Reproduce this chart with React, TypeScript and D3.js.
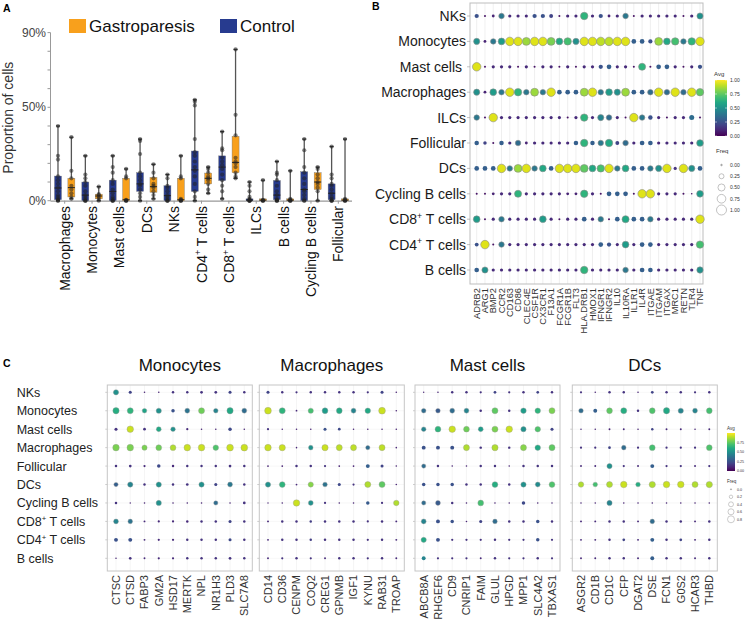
import React from 'react';
import * as d3 from 'd3';

const FONT = "'Liberation Sans', Arial, Helvetica, sans-serif";

// ---------- Panel A: proportion of cells ----------
const cellTypesA = ['Macrophages', 'Monocytes', 'Mast cells', 'DCs', 'NKs', 'CD4+ T cells', 'CD8+ T cells', 'ILCs', 'B cells', 'Cycling B cells', 'Follicular'];

// control (blue) box stats, %
const ctrlMin = [0, 0, 0, 0, 0, 0, 1, 0, 0, 0, 0];
const ctrlQ1 = [0.5, 0, 0, 5, 0, 5, 10.8, 0, 0.5, 0, 0.5];
const ctrlMedian = [6.8, 3, 5, 9, 2.7, 16.5, 18, 0.3, 3, 6, 4];
const ctrlQ3 = [13.2, 10, 11, 15, 8, 26.6, 24, 1, 10.8, 15.5, 9];
const ctrlMax = [40, 24, 24, 33, 14, 54, 37, 10, 21, 33, 29];

// gastroparesis (orange) box stats, %
const gpMin = [1, 0, 0, 1, 0, 4, 12, 0, 0, 0, 0];
const gpQ1 = [2, 1, 0, 4.5, 0, 9, 15, 0, 0, 6, 0];
const gpMedian = [7, 2.5, 0.5, 7.5, 0.5, 12, 20.5, 0.3, 0.3, 10, 0.3];
const gpQ3 = [12, 3.5, 12, 12.5, 12, 14.8, 34.5, 1, 1, 15, 1];
const gpMax = [34, 7.5, 17, 19.5, 24, 18, 81, 11, 16, 18, 33];

// individual samples, %
const ctrlPoints = [
  [0, 0, 0.5, 1, 2, 3, 5, 7, 9, 11, 13, 22, 24, 40],
  [0, 0, 0, 1, 2, 3, 5, 8, 10, 12, 14, 24],
  [0, 0, 0, 1, 2, 4, 6, 9, 11, 15, 18, 24],
  [0, 2, 4, 6, 8, 9, 11, 13, 15, 25, 32, 33],
  [0, 0, 0, 1, 2, 3, 5, 7, 8, 12, 14],
  [0, 2, 5, 9, 13, 16, 18, 21, 24, 26, 33, 51, 53, 54],
  [1, 5, 8, 11, 14, 17, 19, 21, 23, 27, 28, 37],
  [0, 0, 0, 0, 0.5, 1, 2, 5, 8, 10],
  [0, 0, 0, 0.5, 1, 3, 5, 8, 11, 14, 15, 21],
  [0, 0, 1, 3, 5, 6, 9, 12, 15, 18, 27, 33],
  [0, 0, 0, 1, 2, 4, 6, 8, 9, 12, 14, 29],
];
const gpPoints = [
  [1, 2, 4, 6, 8, 12, 16, 34],
  [0, 1, 2, 3, 3.5, 7.5],
  [0, 0, 0, 0.5, 12, 13, 17],
  [1, 3, 5, 7, 8, 9, 12, 15, 19.5],
  [0, 0, 0, 0.5, 1, 12, 13, 24],
  [4, 6, 9, 11, 12, 13, 15, 17, 18],
  [12, 13, 15, 18, 20, 21, 23, 35, 46, 81],
  [0, 0, 0, 0.5, 11],
  [0, 0, 0, 0.5, 1, 16],
  [0, 5, 7, 9, 10, 12, 14, 17, 18],
  [0, 0, 0, 0.5, 1, 33],
];
const yTicksA = [0, 10, 20, 30, 40, 50, 60, 70, 80, 90];
const yLabelsA = [0, 50, 90];

// ---------- Panel B: marker dot plot ----------
const bGenes = ['ADRB2', 'ARG1', 'BMP2', 'CCR2', 'CD163', 'CD86', 'CLEC4E', 'CSF1R', 'CX3CR1', 'F13A1', 'FCGR1A', 'FCGR1B', 'FLT3', 'HLA.DRB1', 'HMOX1', 'IFNGR1', 'IFNGR2', 'IL10', 'IL10RA', 'IL1R1', 'IL4R', 'ITGAE', 'ITGAM', 'ITGAX', 'MRC1', 'RETN', 'TLR4', 'TNF'];
const bRows = ['NKs', 'Monocytes', 'Mast cells', 'Macrophages', 'ILCs', 'Follicular', 'DCs', 'Cycling B cells', 'CD8+ T cells', 'CD4+ T cells', 'B cells'];
const bAvg = [
  [0.25, 0.05, 0.1, 0.4, 0.12, 0.12, 0.12, 0.25, 0.25, 0.2, 0.05, 0.12, 0.12, 0.65, 0.12, 0.25, 0.1, 0.12, 0.4, 0.05, 0.12, 0.12, 0.12, 0.12, 0.12, 0.05, 0.12, 0.5],
  [0.5, 0.1, 0.4, 0.55, 0.95, 0.95, 0.85, 0.95, 0.95, 0.8, 0.6, 0.7, 0.5, 0.95, 0.95, 0.9, 0.9, 0.95, 0.95, 0.3, 0.3, 0.25, 0.85, 0.6, 0.7, 0.4, 0.65, 0.95],
  [0.95, 0.05, 0.12, 0.12, 0.12, 0.05, 0.12, 0.05, 0.12, 0.12, 0.05, 0.12, 0.05, 0.12, 0.12, 0.25, 0.3, 0.12, 0.12, 0.05, 0.65, 0.05, 0.3, 0.3, 0.12, 0.05, 0.12, 0.25],
  [0.5, 0.1, 0.55, 0.4, 0.95, 0.65, 0.4, 0.85, 0.4, 0.95, 0.3, 0.3, 0.3, 0.85, 0.95, 0.4, 0.55, 0.5, 0.85, 0.3, 0.3, 0.35, 0.95, 0.35, 0.95, 0.35, 0.95, 0.75],
  [0.4, 0.05, 0.95, 0.12, 0.12, 0.12, 0.12, 0.12, 0.12, 0.12, 0.12, 0.05, 0.12, 0.65, 0.12, 0.45, 0.35, 0.12, 0.05, 0.95, 0.4, 0.25, 0.12, 0.05, 0.12, 0.12, 0.35, 0.05],
  [0.3, 0.2, 0.05, 0.3, 0.12, 0.35, 0.1, 0.12, 0.12, 0.12, 0.12, 0.12, 0.3, 0.65, 0.3, 0.4, 0.6, 0.2, 0.35, 0.12, 0.3, 0.3, 0.12, 0.12, 0.12, 0.12, 0.12, 0.55],
  [0.3, 0.3, 0.3, 0.95, 0.4, 0.85, 0.95, 0.4, 0.6, 0.3, 0.95, 0.95, 0.95, 0.75, 0.6, 0.7, 0.95, 0.4, 0.6, 0.3, 0.3, 0.4, 0.5, 0.95, 0.15, 0.95, 0.5, 0.3],
  [0.05, 0.05, 0.1, 0.12, 0.12, 0.65, 0.12, 0.12, 0.12, 0.12, 0.12, 0.1, 0.1, 0.65, 0.12, 0.05, 0.3, 0.3, 0.3, 0.05, 0.95, 0.95, 0.12, 0.12, 0.12, 0.05, 0.05, 0.55],
  [0.55, 0.05, 0.12, 0.4, 0.12, 0.12, 0.12, 0.12, 0.55, 0.12, 0.05, 0.12, 0.12, 0.3, 0.12, 0.4, 0.05, 0.3, 0.6, 0.3, 0.3, 0.4, 0.12, 0.12, 0.12, 0.12, 0.12, 0.95],
  [0.25, 0.95, 0.05, 0.4, 0.12, 0.12, 0.12, 0.12, 0.12, 0.12, 0.12, 0.12, 0.12, 0.12, 0.12, 0.3, 0.25, 0.12, 0.55, 0.12, 0.3, 0.3, 0.12, 0.12, 0.12, 0.12, 0.12, 0.7],
  [0.3, 0.5, 0.12, 0.12, 0.12, 0.12, 0.12, 0.12, 0.12, 0.12, 0.12, 0.12, 0.12, 0.65, 0.12, 0.12, 0.12, 0.12, 0.4, 0.12, 0.3, 0.3, 0.12, 0.12, 0.12, 0.12, 0.12, 0.5],
];
const bFreq = [
  [0.18, 0.04, 0.08, 0.3, 0.1, 0.1, 0.1, 0.18, 0.18, 0.15, 0.04, 0.1, 0.1, 0.55, 0.1, 0.18, 0.08, 0.1, 0.3, 0.04, 0.1, 0.1, 0.1, 0.1, 0.1, 0.04, 0.1, 0.38],
  [0.38, 0.08, 0.3, 0.45, 0.72, 0.72, 0.62, 0.72, 0.72, 0.62, 0.45, 0.55, 0.38, 0.72, 0.72, 0.72, 0.72, 0.72, 0.72, 0.22, 0.22, 0.18, 0.62, 0.45, 0.55, 0.3, 0.55, 0.72],
  [0.72, 0.04, 0.1, 0.1, 0.1, 0.04, 0.1, 0.04, 0.1, 0.1, 0.04, 0.1, 0.04, 0.1, 0.1, 0.18, 0.22, 0.1, 0.1, 0.04, 0.5, 0.04, 0.22, 0.22, 0.1, 0.04, 0.1, 0.18],
  [0.38, 0.08, 0.45, 0.3, 0.72, 0.55, 0.3, 0.62, 0.3, 0.72, 0.22, 0.22, 0.22, 0.62, 0.72, 0.3, 0.45, 0.38, 0.62, 0.22, 0.22, 0.3, 0.72, 0.3, 0.72, 0.3, 0.72, 0.55],
  [0.3, 0.04, 0.72, 0.1, 0.1, 0.1, 0.1, 0.1, 0.1, 0.1, 0.1, 0.04, 0.1, 0.55, 0.1, 0.38, 0.3, 0.1, 0.04, 0.72, 0.3, 0.2, 0.1, 0.04, 0.1, 0.1, 0.25, 0.04],
  [0.2, 0.12, 0.04, 0.2, 0.1, 0.3, 0.08, 0.1, 0.1, 0.1, 0.1, 0.1, 0.2, 0.55, 0.2, 0.3, 0.55, 0.15, 0.3, 0.1, 0.22, 0.22, 0.1, 0.1, 0.1, 0.1, 0.1, 0.45],
  [0.22, 0.22, 0.22, 0.72, 0.3, 0.62, 0.72, 0.3, 0.45, 0.22, 0.72, 0.72, 0.72, 0.62, 0.45, 0.55, 0.72, 0.3, 0.45, 0.22, 0.22, 0.3, 0.38, 0.72, 0.1, 0.72, 0.38, 0.22],
  [0.04, 0.04, 0.08, 0.1, 0.1, 0.5, 0.1, 0.1, 0.1, 0.1, 0.1, 0.08, 0.08, 0.55, 0.1, 0.04, 0.22, 0.22, 0.22, 0.04, 0.72, 0.72, 0.1, 0.1, 0.1, 0.04, 0.02, 0.45],
  [0.45, 0.04, 0.1, 0.3, 0.1, 0.1, 0.1, 0.1, 0.45, 0.1, 0.04, 0.1, 0.1, 0.22, 0.1, 0.3, 0.04, 0.22, 0.5, 0.22, 0.22, 0.3, 0.1, 0.1, 0.1, 0.1, 0.1, 0.72],
  [0.15, 0.72, 0.04, 0.3, 0.1, 0.1, 0.1, 0.1, 0.1, 0.1, 0.1, 0.1, 0.1, 0.1, 0.1, 0.22, 0.18, 0.1, 0.45, 0.1, 0.22, 0.22, 0.1, 0.1, 0.1, 0.1, 0.1, 0.55],
  [0.22, 0.38, 0.1, 0.1, 0.1, 0.1, 0.1, 0.1, 0.1, 0.1, 0.1, 0.1, 0.1, 0.55, 0.1, 0.1, 0.1, 0.1, 0.3, 0.1, 0.22, 0.22, 0.1, 0.1, 0.1, 0.1, 0.1, 0.4],
];
const bAvgLegend = [1, 0.75, 0.5, 0.25, 0];
const bFreqLegend = [0, 0.25, 0.5, 0.75, 1];

// ---------- Panel C: cell-type signature genes ----------
const cPanels = ['Monocytes', 'Macrophages', 'Mast cells', 'DCs'];
const cRows = ['NKs', 'Monocytes', 'Mast cells', 'Macrophages', 'Follicular', 'DCs', 'Cycling B cells', 'CD8+ T cells', 'CD4+ T cells', 'B cells'];
const cGenesMono = ['CTSC', 'CTSD', 'FABP3', 'GM2A', 'HSD17', 'MERTK', 'NPL', 'NR1H3', 'PLD3', 'SLC7A8'];
const cGenesMac = ['CD14', 'CD36', 'CENPM', 'COQ2', 'CREG1', 'GPNMB', 'IGF1', 'KYNU', 'RAB31', 'TROAP'];
const cGenesMast = ['ABCB8A', 'RHGEF6', 'CD9', 'CNRIP1', 'FAIM', 'GLUL', 'HPGD', 'MPP1', 'SLC4A2', 'TBXAS1'];
const cGenesDC = ['ASGR2', 'CD1B', 'CD1C', 'CFP', 'DGAT2', 'DSE', 'FCN1', 'G0S2', 'HCAR3', 'THBD'];

const cAvgMono = [
  [0.5, 0.2, 0.1, 0.1, 0.15, 0.15, 0.15, 0.15, 0.2, 0.15],
  [0.62, 0.65, 0.58, 0.5, 0.25, 0.38, 0.78, 0.45, 0.6, 0.35],
  [0.15, 0.92, 0.15, 0.6, 0.5, 0.12, 0.1, 0.1, 0.22, 0.1],
  [0.8, 0.8, 0.8, 0.78, 0.88, 0.92, 0.92, 0.72, 0.92, 0.92],
  [0.15, 0.15, 0.12, 0.22, 0.12, 0.15, 0.15, 0.15, 0.15, 0.15],
  [0.3, 0.45, 0.15, 0.5, 0.15, 0.15, 0.5, 0.2, 0.4, 0.15],
  [0.15, 0.1, 0.1, 0.5, 0.1, 0.1, 0.1, 0.35, 0.1, 0.15],
  [0.45, 0.38, 0.12, 0.12, 0.12, 0.12, 0.15, 0.15, 0.2, 0.15],
  [0.25, 0.25, 0.12, 0.12, 0.12, 0.15, 0.15, 0.15, 0.22, 0.15],
  [0.1, 0.15, 0.12, 0.12, 0.12, 0.15, 0.15, 0.15, 0.15, 0.15],
];
const cFreqMono = [
  [0.45, 0.15, 0.04, 0.04, 0.1, 0.1, 0.12, 0.12, 0.15, 0.1],
  [0.65, 0.6, 0.35, 0.45, 0.2, 0.4, 0.6, 0.35, 0.65, 0.4],
  [0.15, 0.7, 0.12, 0.4, 0.35, 0.08, 0.04, 0.04, 0.2, 0.04],
  [0.7, 0.7, 0.45, 0.55, 0.55, 0.7, 0.7, 0.5, 0.75, 0.75],
  [0.1, 0.12, 0.08, 0.2, 0.1, 0.1, 0.1, 0.1, 0.12, 0.1],
  [0.3, 0.45, 0.1, 0.45, 0.1, 0.12, 0.45, 0.15, 0.4, 0.1],
  [0.1, 0.03, 0.04, 0.45, 0.04, 0.04, 0.04, 0.3, 0.04, 0.12],
  [0.4, 0.35, 0.06, 0.08, 0.08, 0.1, 0.1, 0.1, 0.15, 0.1],
  [0.25, 0.25, 0.06, 0.08, 0.08, 0.1, 0.1, 0.1, 0.15, 0.1],
  [0.04, 0.12, 0.06, 0.08, 0.08, 0.1, 0.1, 0.1, 0.12, 0.1],
];
const cAvgMac = [
  [0.2, 0.15, 0.15, 0.15, 0.15, 0.15, 0.15, 0.15, 0.2, 0.1],
  [0.92, 0.65, 0.12, 0.7, 0.55, 0.6, 0.45, 0.6, 0.92, 0.1],
  [0.15, 0.1, 0.1, 0.1, 0.25, 0.22, 0.1, 0.1, 0.1, 0.1],
  [0.92, 0.92, 0.1, 0.5, 0.92, 0.9, 0.9, 0.35, 0.9, 0.1],
  [0.1, 0.1, 0.15, 0.15, 0.15, 0.1, 0.1, 0.3, 0.2, 0.1],
  [0.5, 0.65, 0.12, 0.82, 0.38, 0.22, 0.15, 0.88, 0.75, 0.1],
  [0.1, 0.1, 0.92, 0.5, 0.15, 0.1, 0.1, 0.28, 0.15, 0.88],
  [0.12, 0.15, 0.15, 0.18, 0.15, 0.15, 0.15, 0.15, 0.15, 0.12],
  [0.12, 0.15, 0.15, 0.18, 0.15, 0.15, 0.15, 0.15, 0.15, 0.12],
  [0.12, 0.15, 0.15, 0.15, 0.12, 0.15, 0.15, 0.15, 0.15, 0.12],
];
const cFreqMac = [
  [0.15, 0.1, 0.08, 0.1, 0.1, 0.1, 0.1, 0.08, 0.15, 0.04],
  [0.75, 0.6, 0.05, 0.45, 0.55, 0.55, 0.4, 0.5, 0.75, 0.04],
  [0.08, 0.04, 0.04, 0.04, 0.15, 0.12, 0.04, 0.04, 0.04, 0.04],
  [0.7, 0.65, 0.04, 0.35, 0.65, 0.6, 0.6, 0.3, 0.6, 0.04],
  [0.05, 0.05, 0.1, 0.1, 0.08, 0.05, 0.05, 0.25, 0.15, 0.04],
  [0.45, 0.55, 0.05, 0.45, 0.35, 0.15, 0.08, 0.6, 0.6, 0.04],
  [0.03, 0.04, 0.7, 0.4, 0.08, 0.04, 0.04, 0.2, 0.08, 0.5],
  [0.06, 0.1, 0.1, 0.1, 0.1, 0.1, 0.1, 0.08, 0.1, 0.06],
  [0.06, 0.1, 0.1, 0.1, 0.1, 0.1, 0.1, 0.08, 0.1, 0.06],
  [0.06, 0.08, 0.1, 0.08, 0.06, 0.1, 0.1, 0.08, 0.1, 0.06],
];
const cAvgMast = [
  [0.1, 0.1, 0.15, 0.15, 0.15, 0.2, 0.15, 0.15, 0.2, 0.15],
  [0.35, 0.28, 0.35, 0.45, 0.15, 0.75, 0.15, 0.55, 0.65, 0.8],
  [0.45, 0.65, 0.92, 0.78, 0.55, 0.8, 0.92, 0.5, 0.72, 0.2],
  [0.25, 0.25, 0.25, 0.88, 0.15, 0.88, 0.15, 0.82, 0.6, 0.75],
  [0.35, 0.15, 0.1, 0.1, 0.15, 0.15, 0.1, 0.15, 0.15, 0.15],
  [0.25, 0.25, 0.25, 0.15, 0.15, 0.62, 0.15, 0.5, 0.48, 0.72],
  [0.35, 0.28, 0.15, 0.1, 0.7, 0.1, 0.1, 0.22, 0.1, 0.1],
  [0.45, 0.25, 0.25, 0.1, 0.2, 0.35, 0.15, 0.15, 0.25, 0.15],
  [0.6, 0.25, 0.15, 0.15, 0.15, 0.15, 0.15, 0.15, 0.25, 0.15],
  [0.45, 0.15, 0.15, 0.15, 0.12, 0.15, 0.15, 0.15, 0.15, 0.15],
];
const cFreqMast = [
  [0.03, 0.04, 0.1, 0.1, 0.08, 0.12, 0.08, 0.1, 0.12, 0.1],
  [0.35, 0.35, 0.4, 0.4, 0.1, 0.6, 0.1, 0.5, 0.5, 0.6],
  [0.35, 0.55, 0.7, 0.55, 0.4, 0.6, 0.7, 0.45, 0.5, 0.15],
  [0.25, 0.25, 0.25, 0.6, 0.1, 0.65, 0.1, 0.6, 0.5, 0.6],
  [0.3, 0.1, 0.04, 0.04, 0.1, 0.1, 0.04, 0.1, 0.1, 0.1],
  [0.2, 0.2, 0.2, 0.1, 0.1, 0.55, 0.1, 0.45, 0.4, 0.55],
  [0.3, 0.4, 0.1, 0.04, 0.55, 0.04, 0.04, 0.2, 0.04, 0.04],
  [0.4, 0.25, 0.2, 0.04, 0.15, 0.35, 0.1, 0.1, 0.2, 0.1],
  [0.45, 0.25, 0.08, 0.08, 0.08, 0.1, 0.08, 0.08, 0.2, 0.08],
  [0.25, 0.08, 0.08, 0.08, 0.06, 0.1, 0.08, 0.08, 0.1, 0.08],
];
const cAvgDC = [
  [0.15, 0.1, 0.15, 0.15, 0.1, 0.2, 0.15, 0.15, 0.15, 0.15],
  [0.35, 0.3, 0.75, 0.62, 0.15, 0.72, 0.6, 0.45, 0.45, 0.7],
  [0.12, 0.1, 0.1, 0.12, 0.1, 0.2, 0.12, 0.12, 0.1, 0.12],
  [0.15, 0.15, 0.2, 0.35, 0.15, 0.7, 0.15, 0.15, 0.15, 0.72],
  [0.12, 0.12, 0.5, 0.15, 0.12, 0.3, 0.15, 0.15, 0.12, 0.15],
  [0.88, 0.7, 0.88, 0.92, 0.62, 0.88, 0.92, 0.92, 0.88, 0.88],
  [0.1, 0.1, 0.45, 0.1, 0.1, 0.1, 0.1, 0.1, 0.1, 0.1],
  [0.12, 0.12, 0.15, 0.15, 0.12, 0.35, 0.15, 0.15, 0.12, 0.15],
  [0.12, 0.12, 0.15, 0.2, 0.12, 0.3, 0.15, 0.2, 0.12, 0.15],
  [0.12, 0.12, 0.15, 0.15, 0.12, 0.3, 0.15, 0.15, 0.12, 0.15],
];
const cFreqDC = [
  [0.08, 0.04, 0.1, 0.1, 0.04, 0.12, 0.1, 0.1, 0.08, 0.1],
  [0.35, 0.25, 0.55, 0.6, 0.1, 0.55, 0.65, 0.45, 0.4, 0.55],
  [0.04, 0.04, 0.06, 0.06, 0.04, 0.1, 0.06, 0.06, 0.04, 0.06],
  [0.08, 0.08, 0.12, 0.35, 0.08, 0.55, 0.08, 0.08, 0.08, 0.55],
  [0.06, 0.06, 0.45, 0.08, 0.06, 0.25, 0.08, 0.08, 0.06, 0.08],
  [0.5, 0.35, 0.6, 0.7, 0.35, 0.65, 0.7, 0.7, 0.6, 0.65],
  [0.04, 0.04, 0.45, 0.04, 0.04, 0.04, 0.04, 0.04, 0.04, 0.04],
  [0.06, 0.06, 0.1, 0.1, 0.06, 0.35, 0.1, 0.1, 0.06, 0.1],
  [0.06, 0.06, 0.1, 0.12, 0.06, 0.25, 0.1, 0.12, 0.06, 0.1],
  [0.06, 0.06, 0.1, 0.1, 0.06, 0.25, 0.1, 0.1, 0.06, 0.1],
];
const cAvgLegend = [0.75, 0.5, 0.25, 0];
const cFreqLegend = [0, 0.2, 0.4, 0.6, 0.8];

const ORANGE = '#f8a01c';
const BLUE = '#273b8f';

// label with superscript "+" for CD4+/CD8+
function cellLabel(s: string, fs: number) {
  const m = s.match(/^(CD\d)\+(.*)$/);
  if (!m) return s;
  return [
    <tspan key="a">{m[1]}</tspan>,
    <tspan key="b" dy={-fs * 0.38} fontSize={fs * 0.62}>+</tspan>,
    <tspan key="c" dy={fs * 0.38}>{m[2]}</tspan>,
  ];
}

function PanelA() {
  const x = d3.scaleBand().domain(cellTypesA).range([51, 352]);
  const y = d3.scaleLinear().domain([0, 90]).range([200.7, 32.6]);
  const off = 6.7;
  const bw = 7;
  const drawBox = (cx: number, mn: number, q1: number, md: number, q3: number, mx: number, pts: number[], fill: string, key: string) => (
    <g key={key}>
      <line x1={cx} x2={cx} y1={y(mn)} y2={y(mx)} stroke="#555" strokeWidth={1.3} />
      <line x1={cx - 2} x2={cx + 2} y1={y(mx)} y2={y(mx)} stroke="#333" strokeWidth={1.3} />
      <line x1={cx - 2} x2={cx + 2} y1={y(mn)} y2={y(mn)} stroke="#333" strokeWidth={1.3} />
      <rect x={cx - bw / 2} y={y(q3)} width={bw} height={Math.max(1, y(q1) - y(q3))} fill={fill} stroke="#777" strokeWidth={0.4} />
      <line x1={cx - bw / 2} x2={cx + bw / 2} y1={y(md)} y2={y(md)} stroke="#222" strokeWidth={1} />
      {pts.map((p, i) => (
        <circle key={i} cx={cx} cy={y(p)} r={2.1} fill="#222" fillOpacity={0.55} />
      ))}
    </g>
  );
  return (
    <g>
      <text x={3} y={12} fontSize={10.5} fontWeight="bold">A</text>
      {/* legend */}
      <rect x={69} y={19} width={17} height={14} fill={ORANGE} />
      <text x={89} y={32} fontSize={17} fill="#111">Gastroparesis</text>
      <rect x={220} y={19} width={17} height={14} fill={BLUE} />
      <text x={240} y={32} fontSize={17} fill="#111">Control</text>
      {/* y axis */}
      <line x1={50.5} x2={50.5} y1={y(90)} y2={y(0)} stroke="#999" />
      {yTicksA.map((t) => (
        <line key={t} x1={47.5} x2={50.5} y1={y(t)} y2={y(t)} stroke="#999" />
      ))}
      {yLabelsA.map((t) => (
        <text key={t} x={46} y={y(t) + 4} fontSize={12} fill="#444" textAnchor="end">{t}%</text>
      ))}
      <text transform={`translate(13,${(y(0) + y(90)) / 2 + 1}) rotate(-90)`} fontSize={14} fill="#333" textAnchor="middle">Proportion of cells</text>
      {/* x axis */}
      <line x1={50.5} x2={352} y1={y(0) + 0.5} y2={y(0) + 0.5} stroke="#999" strokeWidth={1.3} />
      {cellTypesA.map((c) => {
        const cx = (x(c) as number) + x.bandwidth() / 2;
        return (
          <g key={c}>
            <line x1={cx} x2={cx} y1={y(0)} y2={y(0) + 3} stroke="#999" />
            <text transform={`translate(${cx + 5},206) rotate(-90)`} fontSize={14} fill="#111" textAnchor="end">{cellLabel(c, 14)}</text>
          </g>
        );
      })}
      {cellTypesA.map((c, i) => {
        const cx = (x(c) as number) + x.bandwidth() / 2;
        return (
          <g key={'b' + c}>
            {drawBox(cx - off, ctrlMin[i], ctrlQ1[i], ctrlMedian[i], ctrlQ3[i], ctrlMax[i], ctrlPoints[i], BLUE, 'c')}
            {drawBox(cx + off, gpMin[i], gpQ1[i], gpMedian[i], gpQ3[i], gpMax[i], gpPoints[i], ORANGE, 'g')}
          </g>
        );
      })}
    </g>
  );
}

const viridis = d3.scaleSequential(d3.interpolateViridis).domain([0, 1]);

function PanelB() {
  const x = d3.scalePoint().domain(bGenes).range([476.7, 700]);
  const y = d3.scalePoint().domain(bRows).range([16, 270]);
  const r = d3.scaleSqrt().domain([0, 1]).range([0, 5]);
  const top = 3;
  const bottom = 284;
  const bar = d3.scaleLinear().domain([0, 1]).range([136, 80]);
  const fy = d3.scalePoint().domain(bFreqLegend.map(String)).range([165, 210]);
  return (
    <g>
      <text x={372} y={10} fontSize={10.5} fontWeight="bold">B</text>
      {bGenes.map((g) => (
        <line key={g} x1={x(g)} x2={x(g)} y1={top} y2={bottom} stroke="#ebebeb" strokeWidth={0.8} />
      ))}
      {bRows.map((rw) => (
        <line key={rw} x1={470} x2={703} y1={y(rw)} y2={y(rw)} stroke="#f2f2f2" strokeWidth={0.6} />
      ))}
      <rect x={470} y={top} width={233} height={bottom - top} fill="none" stroke="#bdbdbd" strokeWidth={1} />
      {bRows.map((rw) => (
        <g key={'l' + rw}>
          <line x1={467} x2={470} y1={y(rw)} y2={y(rw)} stroke="#999" strokeWidth={0.6} />
          <text x={rw === 'Mast cells' ? 462 : 466} y={(y(rw) as number) + 5} fontSize={14} fill="#1a1a1a" textAnchor="end">{cellLabel(rw, 14)}</text>
        </g>
      ))}
      {bRows.map((rw, i) =>
        bGenes.map((g, j) => (
          <circle key={rw + g} cx={x(g)} cy={y(rw)} r={Math.max(0.8, r(bFreq[i][j]))} fill={viridis(bAvg[i][j])} stroke="#8c8c8c" strokeWidth={r(bFreq[i][j]) > 2.5 ? 0.6 : 0} />
        ))
      )}
      {bGenes.map((g) => (
        <text key={'t' + g} transform={`translate(${(x(g) as number) + 3.2},288) rotate(-90)`} fontSize={9.3} fill="#333" textAnchor="end">{g}</text>
      ))}
      {/* legend */}
      <defs>
        <linearGradient id="vgB" x1="0" y1="1" x2="0" y2="0">
          {d3.range(0, 1.01, 0.1).map((t) => (
            <stop key={t} offset={t} stopColor={viridis(t)} />
          ))}
        </linearGradient>
      </defs>
      <text x={714} y={76} fontSize={6} fill="#333">Avg</text>
      <rect x={715} y={80} width={12} height={56} fill="url(#vgB)" />
      {bAvgLegend.map((v) => (
        <g key={v}>
          <line x1={715} x2={717} y1={bar(v)} y2={bar(v)} stroke="#fff" strokeWidth={0.5} />
          <line x1={725} x2={727} y1={bar(v)} y2={bar(v)} stroke="#fff" strokeWidth={0.5} />
          <text x={730} y={bar(v) + 1.8} fontSize={5} fill="#333">{v.toFixed(2)}</text>
        </g>
      ))}
      <text x={716} y={153} fontSize={6} fill="#333">Freq</text>
      {bFreqLegend.map((v) => (
        <g key={v}>
          <circle cx={721.5} cy={fy(String(v))} r={Math.max(0.8, r(v))} fill={v === 0 ? '#999' : 'none'} stroke="#999" strokeWidth={0.6} />
          <text x={730} y={(fy(String(v)) as number) + 1.8} fontSize={5} fill="#333">{v.toFixed(2)}</text>
        </g>
      ))}
    </g>
  );
}

function PanelC() {
  const y = d3.scalePoint().domain(cRows).range([392.3, 558.3]);
  const r = d3.scaleSqrt().domain([0, 1]).range([0, 3.9]);
  const lefts = [107.3, 259.3, 415, 572.3];
  const w = 145;
  const top = 385;
  const bottom = 571;
  const genes = [cGenesMono, cGenesMac, cGenesMast, cGenesDC];
  const avgs = [cAvgMono, cAvgMac, cAvgMast, cAvgDC];
  const freqs = [cFreqMono, cFreqMac, cFreqMast, cFreqDC];
  const bar = d3.scaleLinear().domain([0, 1]).range([471, 433]);
  const fy = d3.scalePoint().domain(cFreqLegend.map(String)).range([489.3, 519.3]);
  return (
    <g>
      <text x={3} y={367} fontSize={10.5} fontWeight="bold">C</text>
      {cRows.map((rw) => (
        <text key={rw} x={16.7} y={(y(rw) as number) + 4.5} fontSize={12.5} fill="#222">{cellLabel(rw, 12.5)}</text>
      ))}
      {cPanels.map((p, k) => {
        const left = lefts[k];
        const x = d3.scalePoint().domain(genes[k]).range([left + 8.7, left + 137]);
        return (
          <g key={p}>
            <text x={left + w / 2} y={371} fontSize={17} fill="#111" textAnchor="middle">{p}</text>
            {genes[k].map((g) => (
              <line key={g} x1={x(g)} x2={x(g)} y1={top} y2={bottom} stroke="#efefef" strokeWidth={0.6} />
            ))}
            {cRows.map((rw) => (
              <g key={rw}>
                <line x1={left} x2={left + w} y1={y(rw)} y2={y(rw)} stroke="#f2f2f2" strokeWidth={0.6} />
                <line x1={left - 2} x2={left} y1={y(rw)} y2={y(rw)} stroke="#aaa" strokeWidth={0.6} />
              </g>
            ))}
            <rect x={left} y={top} width={w} height={bottom - top} fill="none" stroke="#c6c6c6" strokeWidth={1} />
            {cRows.map((rw, i) =>
              genes[k].map((g, j) => (
                <circle key={rw + g} cx={x(g)} cy={y(rw)} r={Math.max(0.6, r(freqs[k][i][j]))} fill={viridis(avgs[k][i][j])} stroke="#999" strokeWidth={r(freqs[k][i][j]) > 2 ? 0.4 : 0} />
              ))
            )}
            {genes[k].map((g) => (
              <text key={'t' + g} transform={`translate(${(x(g) as number) + 3.9},575) rotate(-90)`} fontSize={11} fill="#333" textAnchor="end">{g}</text>
            ))}
          </g>
        );
      })}
      {/* legend */}
      <defs>
        <linearGradient id="vgC" x1="0" y1="1" x2="0" y2="0">
          {d3.range(0, 1.01, 0.1).map((t) => (
            <stop key={t} offset={t} stopColor={viridis(t)} />
          ))}
        </linearGradient>
      </defs>
      <text x={727} y={430} fontSize={4.5} fill="#333">Avg</text>
      <rect x={727} y={433} width={8} height={38} fill="url(#vgC)" />
      {cAvgLegend.map((v) => (
        <text key={v} x={737} y={bar(v) + 1.3} fontSize={3.6} fill="#333">{v.toFixed(2)}</text>
      ))}
      <text x={727} y={483} fontSize={4.5} fill="#333">Freq</text>
      {cFreqLegend.map((v) => (
        <g key={v}>
          <circle cx={731} cy={fy(String(v))} r={Math.max(0.6, r(v))} fill={v === 0 ? '#999' : 'none'} stroke="#999" strokeWidth={0.5} />
          <text x={737} y={(fy(String(v)) as number) + 1.3} fontSize={3.6} fill="#333">{v.toFixed(1)}</text>
        </g>
      ))}
    </g>
  );
}

export default function App() {
  return (
    <svg width={748} height={620} style={{ position: 'absolute', left: 0, top: 0, background: '#fff' }} fontFamily={FONT}>
      <rect width={748} height={620} fill="#fff" />
      <PanelA />
      <PanelB />
      <PanelC />
    </svg>
  );
}
